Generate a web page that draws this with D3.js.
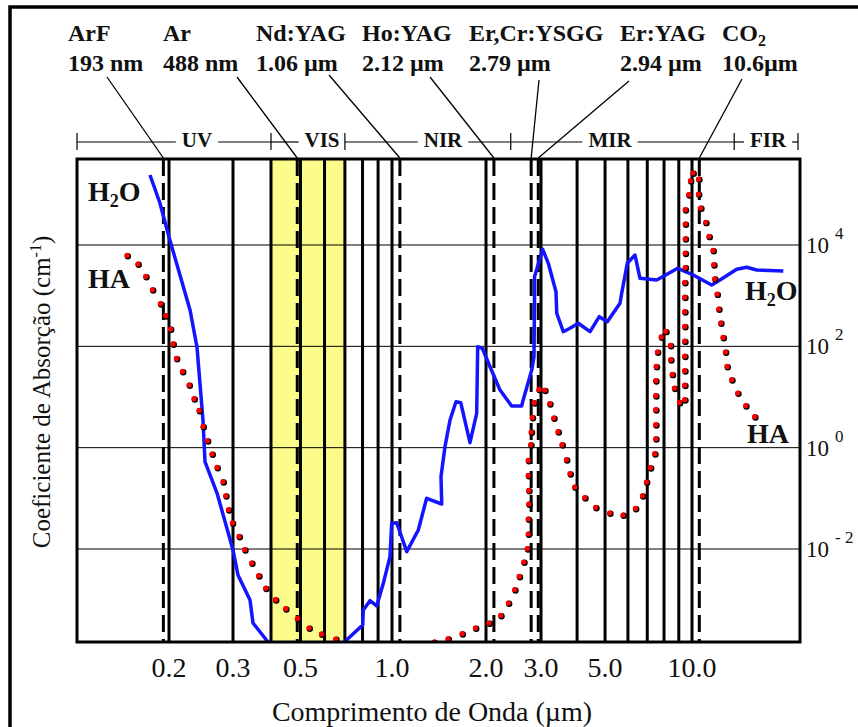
<!DOCTYPE html>
<html>
<head>
<meta charset="utf-8">
<script src="https://cdnjs.cloudflare.com/ajax/libs/d3/7.8.5/d3.min.js"></script>
<style>
body { margin: 0; background: #fff; }
svg text { font-family: "Liberation Serif", "Times New Roman", serif; fill: #111; }
</style>
</head>
<body>
<svg id="viz" width="858" height="727"></svg>
<script>
// axis ticks
var waveTicks = [0.2, 0.3, 0.5, 1, 2, 3, 5, 10];
var waveTickLabels = ["0.2", "0.3", "0.5", "1.0", "2.0", "3.0", "5.0", "10.0"];
var gridWaves = [0.2, 0.3, 0.4, 0.5, 0.6, 0.7, 0.8, 0.9, 1, 2, 3, 4, 5, 6, 7, 8, 9, 10];
var absTicks = [1e4, 1e2, 1, 1e-2];
var absTickExp = ["4", "2", "0", "- 2"];

// lasers
var laserNames = ["ArF", "Ar", "Nd:YAG", "Ho:YAG", "Er,Cr:YSGG", "Er:YAG", "CO"];
var laserWaveText = ["193 nm", "488 nm", "1.06 µm", "2.12 µm", "2.79 µm", "2.94 µm", "10.6µm"];
var laserWaves = [0.193, 0.488, 1.06, 2.12, 2.79, 2.94, 10.6];

// spectral bands
var bandNames = ["UV", "VIS", "NIR", "MIR", "FIR"];
var bandEdges = [0.4, 0.7, 2.4, 14];
var visibleBand = [0.4, 0.7];

// water absorption (um, cm-1), null = curve leaves the chart
var h2oWave = [0.1773, 0.1888, 0.2000, 0.2285, 0.2388, 0.2480, 0.2513, 0.2711, 0.3000, 0.3115, 0.3412, 0.3491, 0.3911, null,
    0.6916, 0.8010, 0.8047, 0.8463, 0.8906, 0.9363, 0.9849, 0.9977, 1.035, 1.115,
    1.214, 1.291, 1.443, 1.435, 1.478, 1.534, 1.603, 1.660, 1.777, 1.867,
    1.881, 1.946, 2.060, 2.218, 2.416, 2.602, 2.621, 2.802, 2.849, 2.860,
    2.860, 3.041, 3.180, 3.381, 3.401, 3.584, 3.780, 4.039, 4.435, 4.775,
    5.089, 5.632, 5.709, 5.969, 6.348, 6.606, 7.547, 8.924, 10.10, 11.70,
    12.50, 14.28, 15.47, 16.75, 20.71];
var h2oAbs = [240800, 67450, 14390, 521, 97.0, 3.52, 0.522, 0.1274, 0.00956, 0.00307, 0.000985, 0.000346, 0.000146, null,
    0.000140, 0.000316, 0.000625, 0.000954, 0.000750, 0.0021, 0.00705, 0.0322, 0.0330, 0.00885,
    0.0237, 0.1002, 0.0773, 0.267, 1.045, 3.52, 8.08, 7.72, 1.253, 4.77,
    98.4, 91.5, 39.6, 13.7, 6.64, 6.64, 8.08, 34.1, 61.6, 821,
    2368, 8228, 4354, 1198, 449, 194.5, 227, 285, 194.5, 385,
    306, 707, 1114, 4354, 6347, 2202, 2039, 3469, 2559, 1624,
    2039, 3315, 3630, 3211, 3069];

// hydroxyapatite absorption (um, cm-1)
var haWave = [0.1536, 0.1646, 0.1729, 0.1804, 0.1897, 0.1962, 0.2022, 0.2055, 0.2100, 0.2182,
    0.2275, 0.2348, 0.2424, 0.2486, 0.2556, 0.2631, 0.2716, 0.2821, 0.2870, 0.2920,
    0.2994, 0.3147, 0.3286, 0.3464, 0.3652, 0.3851, 0.4146, 0.4480, 0.4896, 0.5346,
    0.5873, 0.6543,
    1.366, 1.515, 1.680, 1.854, 2.049, 2.234, 2.364, 2.477, 2.560, 2.647,
    2.716, 2.736, 2.736, 2.746, 2.746, 2.736, 2.736, 2.787, 2.797, 2.818,
    2.860, 2.963,
    3.097, 3.223, 3.328, 3.444, 3.556, 3.683, 3.790, 3.934, 4.262, 4.651,
    5.200, 5.782, 6.383, 6.750, 6.968, 7.194, 7.445, 7.504, 7.504, 7.504,
    7.504, 7.504, 7.535, 7.606, 7.841, 8.128, 8.437, 8.458, 8.560, 8.712,
    9.066, 9.456, 9.456, 9.456, 9.456, 9.456, 9.456, 9.456, 9.456, 9.456,
    9.495, 9.495, 9.495, 9.495, 9.495, 9.763, 9.897, 10.10, 10.57, 10.55,
    10.74, 11.18, 11.48, 11.85, 11.92, 12.01, 12.24, 12.40, 12.60, 12.84,
    13.08, 13.25, 13.76, 14.43, 15.38, 16.52];
var haAbs = [6150, 4160, 2370, 1290, 685, 397, 217, 110, 57, 31.6,
    17.0, 9.13, 5.37, 2.59, 1.35, 0.740, 0.402, 0.210, 0.111, 0.0589,
    0.0322, 0.0175, 0.00956, 0.00522, 0.00293, 0.00166, 0.000985, 0.000654, 0.000421, 0.000272,
    0.000207, 0.000165,
    0.000144, 0.000167, 0.000210, 0.000272, 0.000342, 0.000483, 0.000848, 0.00155, 0.00284, 0.00546,
    0.0100, 0.0195, 0.0386, 0.0762, 0.1415, 0.280, 0.553, 1.13, 2.01, 3.90,
    7.61, 13.9,
    13.4, 7.28, 3.80, 2.04, 1.13, 0.571, 0.302, 0.165, 0.1015, 0.0653,
    0.0507, 0.0463, 0.0624, 0.111, 0.207, 0.397, 0.750, 1.48, 2.80, 5.54,
    10.5, 20.7, 39.6, 76.3, 151, 195, 103, 53.8, 27.6, 14.7,
    7.72, 8.73, 16.9, 32.6, 63.0, 125, 244, 476, 920, 1800,
    3550, 6800, 13100, 25600, 49100, 97000, 183000, 260000, 198000, 100000,
    53000, 27600, 14600, 7720, 4030, 2130, 1060, 538, 285, 148,
    76.3, 39.6, 21.7, 11.8, 6.64, 4.03];

// layout of the laser captions (left x of text, start of leader line)
var laserLabelX = [68, 163, 256, 362, 469, 620, 722];
var leaderStart = [[107, 77], [237, 77], [329, 75], [430, 77], [539, 80], [629, 81], [742, 79]];
var bandLabelX = [197, 322, 443, 610, 768];

var plot = {left: 77, right: 800, top: 159, bottom: 642};

// the printed axis is only roughly logarithmic, so the scale is piecewise
var x = d3.scaleLog().domain([0.2, 0.3, 1, 3, 10]).range([169, 233, 392, 541, 692]);
var y = d3.scaleLog().domain([1e-2, 1e4]).range([549, 245]);

window.addEventListener("load", run);

function run() {
    var svg = d3.select("#viz");
    svg.append("rect").attr("width", 858).attr("height", 727).attr("fill", "#fff");

    // outer frame of the figure
    svg.append("rect")
        .attr("x", 10).attr("y", 7).attr("width", 880).attr("height", 760)
        .attr("fill", "none").attr("stroke", "#000").attr("stroke-width", 3.5);

    svg.append("clipPath").attr("id", "clip")
        .append("rect")
        .attr("x", plot.left).attr("y", plot.top)
        .attr("width", plot.right - plot.left).attr("height", plot.bottom - plot.top);

    drawGrid(svg);
    drawData(svg);

    svg.append("rect")
        .attr("x", plot.left).attr("y", plot.top)
        .attr("width", plot.right - plot.left).attr("height", plot.bottom - plot.top)
        .attr("fill", "none").attr("stroke", "#000").attr("stroke-width", 3);

    drawAxes(svg);
    drawBands(svg);
    drawLasers(svg);
    drawCurveNames(svg);
}

function drawGrid(svg) {
    svg.append("rect")
        .attr("x", x(visibleBand[0])).attr("y", plot.top)
        .attr("width", x(visibleBand[1]) - x(visibleBand[0]))
        .attr("height", plot.bottom - plot.top)
        .attr("fill", "#fcfc8c");

    svg.selectAll(".hgrid").data(absTicks).enter().append("line")
        .attr("x1", plot.left).attr("x2", plot.right)
        .attr("y1", function(d) { return y(d); })
        .attr("y2", function(d) { return y(d); })
        .attr("stroke", "#000").attr("stroke-width", 1);

    svg.selectAll(".vgrid").data(gridWaves).enter().append("line")
        .attr("x1", function(d) { return x(d); })
        .attr("x2", function(d) { return x(d); })
        .attr("y1", plot.top).attr("y2", plot.bottom)
        .attr("stroke", "#000").attr("stroke-width", 3);

    svg.selectAll(".laser").data(laserWaves).enter().append("line")
        .attr("x1", function(d) { return x(d); })
        .attr("x2", function(d) { return x(d); })
        .attr("y1", plot.top).attr("y2", plot.bottom)
        .attr("stroke", "#000").attr("stroke-width", 3)
        .attr("stroke-dasharray", "17,7");
}

function drawData(svg) {
    var g = svg.append("g").attr("clip-path", "url(#clip)");

    var h2o = h2oWave.map(function(w, i) { return [w, h2oAbs[i]]; });
    var line = d3.line()
        .defined(function(d) { return d[0] != null; })
        .x(function(d) { return x(d[0]); })
        .y(function(d) { return y(d[1]); });

    g.append("path")
        .attr("d", line(h2o))
        .attr("fill", "none")
        .attr("stroke", "#1414ff")
        .attr("stroke-width", 3.5)
        .attr("stroke-linejoin", "round");

    var ha = haWave.map(function(w, i) { return [w, haAbs[i]]; });
    g.selectAll(".hashadow").data(ha).enter().append("circle")
        .attr("cx", function(d) { return x(d[0]) + 0.5; })
        .attr("cy", function(d) { return y(d[1]) + 0.5; })
        .attr("r", 3.2)
        .attr("fill", "#000");
    g.selectAll(".hadot").data(ha).enter().append("circle")
        .attr("cx", function(d) { return x(d[0]) - 0.3; })
        .attr("cy", function(d) { return y(d[1]) - 0.3; })
        .attr("r", 2.6)
        .attr("fill", "#ff0000");
}

function drawAxes(svg) {
    svg.selectAll(".xlab").data(waveTicks).enter().append("text")
        .attr("x", function(d) { return x(d); })
        .attr("y", 677)
        .attr("text-anchor", "middle")
        .attr("font-size", 28)
        .text(function(d, i) { return waveTickLabels[i]; });

    svg.append("text")
        .attr("x", 432).attr("y", 721)
        .attr("text-anchor", "middle")
        .attr("font-size", 28)
        .text("Comprimento de Onda (µm)");

    var ylab = svg.selectAll(".ylab").data(absTicks).enter().append("text")
        .attr("x", 806)
        .attr("y", function(d) { return y(d) + 8; })
        .attr("font-size", 23);
    ylab.append("tspan").text("10");
    ylab.append("tspan")
        .attr("dx", 6).attr("dy", -14)
        .attr("font-size", 17)
        .text(function(d, i) { return absTickExp[i]; });

    var yt = svg.append("text")
        .attr("transform", "translate(50,392) rotate(-90)")
        .attr("text-anchor", "middle")
        .attr("font-size", 25);
    yt.append("tspan").text("Coeficiente de Absorção (cm");
    yt.append("tspan").attr("dy", -9).attr("font-size", 16).text("-1");
    yt.append("tspan").attr("dy", 9).text(")");
}

function drawBands(svg) {
    var edges = [plot.left].concat(bandEdges.map(function(d) { return x(d); })).concat([plot.right - 2]);
    var barY = 142;

    edges.forEach(function(e) {
        svg.append("line")
            .attr("x1", e).attr("x2", e)
            .attr("y1", 133).attr("y2", 150)
            .attr("stroke", "#000").attr("stroke-width", 1.2);
    });

    bandNames.forEach(function(name, i) {
        var t = svg.append("text")
            .attr("x", bandLabelX[i]).attr("y", 147)
            .attr("text-anchor", "middle")
            .attr("font-size", 21).attr("font-weight", "bold")
            .text(name);
        var w = t.node().getComputedTextLength();
        var a = bandLabelX[i] - w / 2 - 6, b = bandLabelX[i] + w / 2 + 6;
        svg.append("line")
            .attr("x1", edges[i]).attr("x2", Math.max(edges[i], a))
            .attr("y1", barY).attr("y2", barY)
            .attr("stroke", "#000").attr("stroke-width", 1.2);
        svg.append("line")
            .attr("x1", Math.min(edges[i + 1], b)).attr("x2", edges[i + 1])
            .attr("y1", barY).attr("y2", barY)
            .attr("stroke", "#000").attr("stroke-width", 1.2);
    });
}

function drawLasers(svg) {
    laserNames.forEach(function(name, i) {
        var t = svg.append("text")
            .attr("x", laserLabelX[i]).attr("y", 41)
            .attr("font-size", 24).attr("font-weight", "bold")
            .text(name);
        if (name == "CO") {
            t.append("tspan").attr("dy", 5).attr("font-size", 16).text("2");
        }
        svg.append("text")
            .attr("x", laserLabelX[i]).attr("y", 71)
            .attr("font-size", 24).attr("font-weight", "bold")
            .text(laserWaveText[i]);

        svg.append("line")
            .attr("x1", leaderStart[i][0]).attr("y1", leaderStart[i][1])
            .attr("x2", x(laserWaves[i])).attr("y2", plot.top - 1)
            .attr("stroke", "#000").attr("stroke-width", 1.3);
    });
}

function drawCurveNames(svg) {
    function molecule(xp, yp) {
        var t = svg.append("text")
            .attr("x", xp).attr("y", yp)
            .attr("font-size", 28).attr("font-weight", "bold");
        t.append("tspan").text("H");
        t.append("tspan").attr("dy", 6).attr("font-size", 18).text("2");
        t.append("tspan").attr("dy", -6).text("O");
    }
    molecule(88, 201);
    molecule(745, 300);

    svg.append("text").attr("x", 88).attr("y", 288)
        .attr("font-size", 28).attr("font-weight", "bold").text("HA");
    svg.append("text").attr("x", 747).attr("y", 443)
        .attr("font-size", 28).attr("font-weight", "bold").text("HA");
}
</script>
</body>
</html>
